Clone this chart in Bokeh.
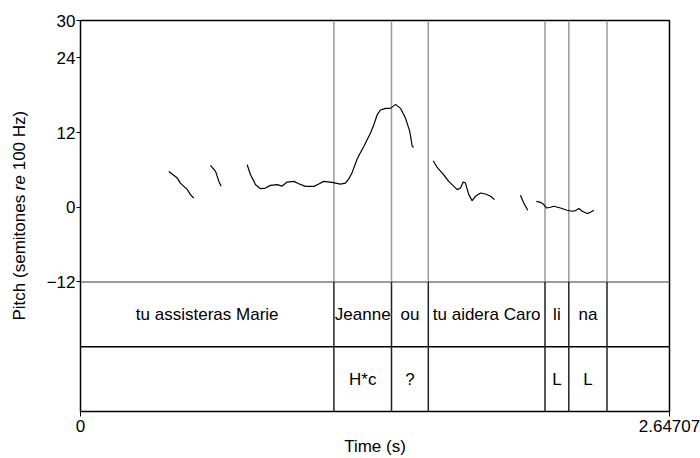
import math
from bokeh.plotting import figure
from bokeh.layouts import row
from bokeh.models import Range1d, FixedTicker, NumeralTickFormatter, ColumnDataSource
from bokeh.core.properties import value
from bokeh.embed import file_html
from bokeh.resources import INLINE

# ---------------- data ----------------
t_end = 2.64707
y_ticks = [-12, 0, 12, 24, 30]
y_tick_labels = {-12: "\u221212", 0: "0", 12: "12", 24: "24", 30: "30"}

# pitch contour pieces (time s, semitones re 100 Hz)
seg1_t = [0.397, 0.435, 0.449, 0.480, 0.494, 0.509]
seg1_v = [5.76, 4.69, 3.89, 2.83, 2.03, 1.49]
seg2_t = [0.584, 0.607, 0.622, 0.632]
seg2_v = [6.72, 5.76, 4.16, 3.36]
seg3_t = [0.749, 0.764, 0.787, 0.809, 0.831, 0.854, 0.884, 0.906, 0.929, 0.959,
          0.981, 1.011, 1.049, 1.071, 1.093, 1.131, 1.168, 1.191, 1.206, 1.221,
          1.244, 1.273, 1.303, 1.318, 1.333, 1.348, 1.371, 1.393, 1.416, 1.438,
          1.461, 1.480, 1.491, 1.498]
seg3_v = [6.83, 5.23, 3.63, 2.99, 3.09, 3.52, 3.63, 3.41, 4.05, 4.16,
          3.79, 3.36, 3.36, 3.73, 4.16, 4.00, 3.73, 3.89, 4.59, 5.60,
          7.84, 9.76, 11.89, 13.23, 14.83, 15.63, 15.89, 15.89, 16.53, 15.89,
          14.29, 12.16, 9.76, 9.65]
seg4_t = [1.585, 1.603, 1.626, 1.655, 1.678, 1.693, 1.708, 1.720, 1.730, 1.745,
          1.760, 1.775, 1.798, 1.820, 1.843, 1.861]
seg4_v = [7.47, 6.40, 5.49, 4.16, 3.36, 2.83, 3.09, 4.05, 3.89, 2.03,
          1.07, 1.76, 2.29, 2.13, 1.76, 1.23]
seg5_t = [1.977, 1.992, 2.010]
seg5_v = [1.92, 0.69, -0.48]
seg6_t = [2.049, 2.067, 2.082, 2.094, 2.112, 2.127, 2.157, 2.187, 2.210, 2.225,
          2.240, 2.255, 2.277, 2.292, 2.307]
seg6_v = [0.96, 0.80, 0.43, -0.11, 0.00, 0.16, -0.11, -0.48, -0.64, -0.53,
          -0.21, -0.64, -1.01, -0.80, -0.48]

# TextGrid tiers
tier1_bounds = [0.0, 1.1388, 1.3977, 1.5631, 2.0875, 2.1945, 2.3662, t_end]
tier1_labels = ["tu assisteras Marie", "Jeanne", "ou", "tu aidera Caro", "li", "na", ""]
tier2_bounds = [0.0, 1.1388, 1.3977, 1.5631, 2.0875, 2.1945, 2.3662, t_end]
tier2_labels = ["", "H*c", "?", "", "L", "L", ""]

y_title_parts = ["Pitch (semitones", "re", "100 Hz)"]
y_title_styles = ["normal", "italic", "normal"]
x_title = "Time (s)"

# ---------------- layout ----------------
W, H = 700, 458
LW = 40                      # width of the side strip holding the y title
left_px, right_px, top_px, bottom_px = 80, 669, 20, 411
pitch_min, pitch_max = -12, 30
tier_h = 10.4
tier_mid = pitch_min - tier_h
y_lo = pitch_min - 2 * tier_h

FONT = "Liberation Sans"
FS = "17px"

p = figure(width=W - LW, height=H, output_backend="svg", toolbar_location=None,
           x_range=Range1d(0, t_end), y_range=Range1d(y_lo, pitch_max),
           min_border_left=left_px - LW, min_border_right=W - right_px,
           min_border_top=top_px, min_border_bottom=H - bottom_px)
p.xgrid.visible = False
p.ygrid.visible = False
p.outline_line_color = "black"
p.outline_line_width = 1.5
p.background_fill_color = "white"
p.border_fill_color = "white"

# axes
yax = p.yaxis[0]
yax.ticker = FixedTicker(ticks=y_ticks)
yax.major_label_overrides = y_tick_labels
yax.major_tick_out = 4
yax.major_tick_in = 0
yax.minor_tick_out = 0
yax.minor_tick_in = 0
yax.axis_line_color = "black"
yax.major_tick_line_color = "black"
yax.major_label_standoff = 1
yax.major_label_text_font = FONT
yax.major_label_text_font_size = FS
yax.major_label_text_color = "black"

xax = p.xaxis[0]
xax.ticker = FixedTicker(ticks=[0, t_end])
xax.formatter = NumeralTickFormatter(format="0.[00000]")
xax.major_tick_out = 5
xax.major_tick_in = 0
xax.minor_tick_out = 0
xax.minor_tick_in = 0
xax.axis_line_color = "black"
xax.major_tick_line_color = "black"
xax.major_label_standoff = 3
xax.major_label_text_font = FONT
xax.major_label_text_font_size = FS
xax.major_label_text_color = "black"
xax.axis_label = x_title
xax.axis_label_standoff = 2
xax.axis_label_text_font = FONT
xax.axis_label_text_font_size = FS
xax.axis_label_text_font_style = "normal"
xax.axis_label_text_color = "black"

# boundaries in pitch area (grey) and tiers (black)
inner = tier1_bounds[1:-1]
inner2 = tier2_bounds[1:-1]
p.segment(x0=inner, y0=[pitch_min] * len(inner), x1=inner, y1=[pitch_max] * len(inner),
          line_color="#9a9a9a", line_width=1.5)
p.segment(x0=[0], y0=[pitch_min], x1=[t_end], y1=[pitch_min], line_color="#7a7a7a", line_width=1.5)
p.segment(x0=[0], y0=[tier_mid], x1=[t_end], y1=[tier_mid], line_color="black", line_width=1.5)
p.segment(x0=inner, y0=[tier_mid] * len(inner), x1=inner, y1=[pitch_min] * len(inner),
          line_color="#222222", line_width=1.5)
p.segment(x0=inner2, y0=[y_lo] * len(inner2), x1=inner2, y1=[tier_mid] * len(inner2),
          line_color="#222222", line_width=1.5)

# pitch contour
xs = [seg1_t, seg2_t, seg3_t, seg4_t, seg5_t, seg6_t]
ys = [seg1_v, seg2_v, seg3_v, seg4_v, seg5_v, seg6_v]
p.multi_line(xs=xs, ys=ys, line_color="black", line_width=1.2)

# tier texts
mid1 = [(a + b) / 2 for a, b in zip(tier1_bounds[:-1], tier1_bounds[1:])]
mid2 = [(a + b) / 2 for a, b in zip(tier2_bounds[:-1], tier2_bounds[1:])]
src1 = ColumnDataSource(dict(x=mid1, y=[(pitch_min + tier_mid) / 2] * len(mid1), t=tier1_labels))
src2 = ColumnDataSource(dict(x=mid2, y=[(tier_mid + y_lo) / 2] * len(mid2), t=tier2_labels))
for src in (src1, src2):
    p.text(x="x", y="y", text="t", source=src, text_font=value(FONT), text_font_size=value(FS),
           text_align="center", text_baseline="middle", text_color="black")

# ---------------- side strip with the y title (italic "re") ----------------
# its frame is given the same vertical extent as the main frame; data units = px from page bottom
s = figure(width=LW, height=H, output_backend="svg", toolbar_location=None,
           x_axis_location=None, y_axis_location=None,
           x_range=Range1d(0, LW), y_range=Range1d(H - bottom_px, H - top_px),
           min_border_left=0, min_border_right=0,
           min_border_top=top_px, min_border_bottom=H - bottom_px)
s.grid.visible = False
s.outline_line_color = None
s.background_fill_color = "white"
s.border_fill_color = "white"

# piece widths (Arial/Liberation metrics, em units) -> centre positions, text reads upward
em = 17.0
w1, w2, w3 = 7.391 * em, 0.889 * em, 3.501 * em
sp = 0.278 * em
start = 320.0                       # px from top where the title begins
c1 = start - w1 / 2
c2 = start - w1 - sp - w2 / 2
c3 = start - w1 - sp - w2 - sp - w3 / 2
for txt, cy, style in zip(y_title_parts, [c1, c2, c3], y_title_styles):
    s.text(x=[19], y=[H - cy], text=[txt], angle=math.pi / 2, text_font=value(FONT),
           text_font_size=value(FS), text_font_style=value(style), text_align="center",
           text_baseline="middle", text_color="black")

layout = row(s, p, spacing=0)
open("out.html", "w").write(file_html(layout, INLINE))
